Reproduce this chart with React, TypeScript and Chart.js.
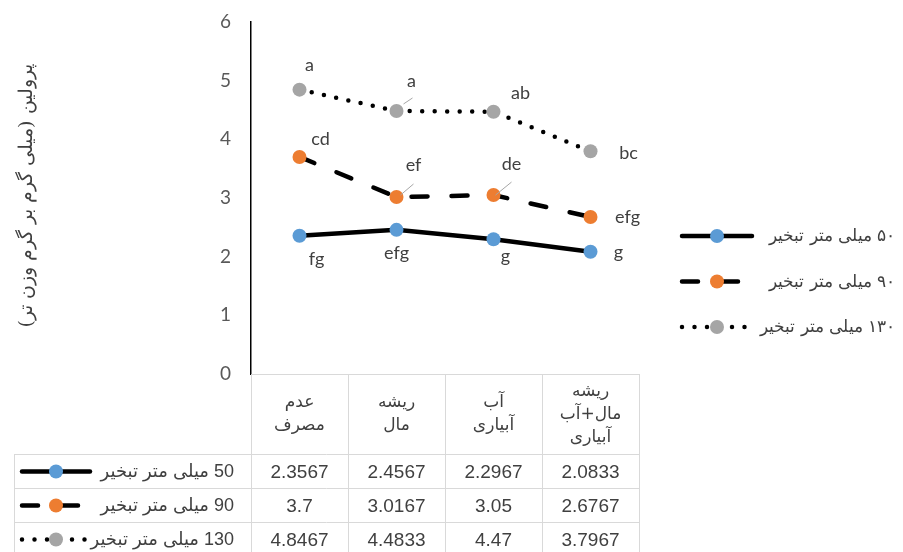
import React, { useEffect, useRef } from "react";
import { Chart, registerables } from "chart.js";

Chart.register(...registerables);

const categories = [
  ["عدم", "مصرف"],
  ["ریشه", "مال"],
  ["آب", "آبیاری"],
  ["ریشه", "مال+آب", "آبیاری"],
];
const tableNames = ["50 میلی متر تبخیر", "90 میلی متر تبخیر", "130 میلی متر تبخیر"];
const legendNames = ["۵۰ میلی متر تبخیر", "۹۰ میلی متر تبخیر", "۱۳۰ میلی متر تبخیر"];
const evap50 = [2.3567, 2.4567, 2.2967, 2.0833];
const evap90 = [3.7, 3.0167, 3.05, 2.6767];
const evap130 = [4.8467, 4.4833, 4.47, 3.7967];
const tableText50 = ["2.3567", "2.4567", "2.2967", "2.0833"];
const tableText90 = ["3.7", "3.0167", "3.05", "2.6767"];
const tableText130 = ["4.8467", "4.4833", "4.47", "3.7967"];
const letters50 = ["fg", "efg", "g", "g"];
const letters90 = ["cd", "ef", "de", "efg"];
const letters130 = ["a", "a", "ab", "bc"];
const yMin = 0;
const yMax = 6;
const yStep = 1;
const yTitle = "پرولین (میلی گرم بر گرم وزن تر)";

// styles
const markerColors = ["#5B9BD5", "#ED7D31", "#A5A5A5"];
const dashes = [[], [16, 24], [0, 12.5]];
const lineW = 4.5;
const ptR = 7;
const textColor = "#404040";
const gridColor = "#D9D9D9";

// label offsets relative to point (dx, dy) per series
const labelOffsets = [
  [[17, 23], [0, 23], [12, 17], [28, 0]],
  [[21, -18], [17, -32], [18, -31], [37, 0]],
  [[10, -24], [15, -30], [27, -19], [38, 2]],
];
// leader lines: [series, index, x1, y1, x2, y2] relative to point
const leaders = [
  [2, 1, 7, -7, 16, -13],
  [1, 1, 4, -2, 17, -13],
  [1, 2, 2, 0, 18, -13],
];

const seriesValues = [evap50, evap90, evap130];
const seriesLetters = [letters50, letters90, letters130];
const seriesTable = [tableText50, tableText90, tableText130];

function drawSample(ctx: CanvasRenderingContext2D, s: number, x1: number, x2: number, y: number) {
  ctx.save();
  ctx.strokeStyle = "#000";
  ctx.lineWidth = lineW;
  ctx.lineCap = "round";
  ctx.setLineDash(dashes[s] as number[]);
  ctx.beginPath();
  ctx.moveTo(x1, y);
  ctx.lineTo(x2, y);
  ctx.stroke();
  ctx.setLineDash([]);
  ctx.fillStyle = markerColors[s];
  ctx.beginPath();
  ctx.arc((x1 + x2) / 2, y, ptR, 0, Math.PI * 2);
  ctx.fill();
  ctx.restore();
}

const overlayPlugin = {
  id: "overlay",
  afterDatasetsDraw(chart: any) {
    const ctx: CanvasRenderingContext2D = chart.ctx;
    const area = chart.chartArea;
    ctx.save();
    // letter labels
    ctx.font = "18px Lato";
    ctx.fillStyle = textColor;
    ctx.textAlign = "center";
    ctx.textBaseline = "middle";
    for (let s = 0; s < 3; s++) {
      const meta = chart.getDatasetMeta(s);
      meta.data.forEach((pt: any, i: number) => {
        const [dx, dy] = labelOffsets[s][i];
        ctx.fillText(seriesLetters[s][i], pt.x + dx, pt.y + dy);
      });
    }
    ctx.strokeStyle = "#A6A6A6";
    ctx.lineWidth = 1;
    leaders.forEach(([s, i, x1, y1, x2, y2]) => {
      const pt = chart.getDatasetMeta(s).data[i];
      ctx.beginPath();
      ctx.moveTo(pt.x + x1, pt.y + y1);
      ctx.lineTo(pt.x + x2, pt.y + y2);
      ctx.stroke();
    });

    // data table
    const n = categories.length;
    const colW = (area.right - area.left) / n;
    const tableLeft = 14;
    const headTop = area.bottom;
    const headBottom = 454.5;
    const rowH = 34;
    ctx.strokeStyle = gridColor;
    ctx.lineWidth = 1;
    ctx.beginPath();
    ctx.moveTo(area.left, headTop + 0.5);
    ctx.lineTo(area.right, headTop + 0.5);
    for (let r = 0; r <= 3; r++) {
      const y = headBottom + r * rowH;
      ctx.moveTo(tableLeft, y);
      ctx.lineTo(area.right, y);
    }
    for (let c = 0; c <= n; c++) {
      const x = Math.round(area.left + c * colW) + 0.5;
      ctx.moveTo(x, headTop);
      ctx.lineTo(x, 560);
    }
    ctx.moveTo(tableLeft + 0.5, headBottom);
    ctx.lineTo(tableLeft + 0.5, 560);
    ctx.stroke();

    // header text
    ctx.fillStyle = textColor;
    ctx.direction = "rtl";
    ctx.font = "17px 'DejaVu Sans', sans-serif";
    ctx.textAlign = "center";
    const lineH = 23;
    categories.forEach((lines, c) => {
      const cx = area.left + (c + 0.5) * colW;
      const cy = (headTop + headBottom) / 2;
      const start = cy - ((lines.length - 1) * lineH) / 2;
      lines.forEach((t, k) => ctx.fillText(t, cx, start + k * lineH));
    });

    // rows
    for (let s = 0; s < 3; s++) {
      const cy = headBottom + s * rowH + rowH / 2;
      ctx.direction = "ltr";
      ctx.font = "19px 'Liberation Sans', Arial, sans-serif";
      ctx.textAlign = "center";
      ctx.fillStyle = textColor;
      seriesTable[s].forEach((t, c) => {
        ctx.fillText(t, area.left + (c + 0.5) * colW, cy + 1);
      });
      drawSample(ctx, s, 22, 90, cy);
      ctx.direction = "rtl";
      ctx.textAlign = "right";
      ctx.fillStyle = textColor;
      ctx.font = "18px 'Liberation Sans', 'DejaVu Sans', sans-serif";
      ctx.fillText(tableNames[s], 234, cy + 1);
    }

    // right legend
    for (let s = 0; s < 3; s++) {
      const y = 236 + s * 45.5;
      drawSample(ctx, s, 682, 752, y);
      ctx.direction = "rtl";
      ctx.textAlign = "right";
      ctx.fillStyle = textColor;
      ctx.font = "16.5px 'DejaVu Serif', 'Liberation Serif', serif";
      ctx.fillText(legendNames[s], 895, y + 1);
    }

    // y axis title
    ctx.save();
    ctx.translate(27, 196);
    ctx.rotate(-Math.PI / 2);
    ctx.direction = "rtl";
    ctx.textAlign = "center";
    ctx.fillStyle = textColor;
    ctx.font = "19px 'DejaVu Serif', 'Liberation Serif', serif";
    ctx.fillText(yTitle, 0, 0);
    ctx.restore();

    ctx.restore();
  },
};

export default function App() {
  const ref = useRef<HTMLCanvasElement | null>(null);
  useEffect(() => {
    if (!ref.current) return;
    const chart = new Chart(ref.current, {
      type: "line",
      data: {
        labels: categories,
        datasets: seriesValues.map((vals, s) => ({
          label: tableNames[s],
          data: vals,
          borderColor: "#000",
          borderWidth: lineW,
          borderDash: dashes[s] as number[],
          borderCapStyle: "round" as const,
          tension: 0,
          fill: false,
          pointRadius: ptR,
          pointBorderWidth: 0,
          pointBackgroundColor: markerColors[s],
          pointBorderColor: markerColors[s],
        })),
      },
      options: {
        animation: false,
        responsive: false,
        devicePixelRatio: 1,
        layout: { padding: { left: 0, right: 264, top: 22, bottom: 178 } },
        plugins: { legend: { display: false }, tooltip: { enabled: false } },
        scales: {
          x: { type: "category", offset: true, display: false },
          y: {
            min: yMin,
            max: yMax,
            ticks: {
              stepSize: yStep,
              padding: 20,
              color: "#595959",
              font: { family: "Lato", size: 19 },
            },
            grid: { display: false, drawTicks: false },
            border: { display: true, color: "#000", width: 1.5 },
            afterFit: (scale: any) => {
              scale.width = 251;
              scale.paddingTop = 0;
              scale.paddingBottom = 0;
            },
          },
        },
      },
      plugins: [overlayPlugin],
    });
    return () => chart.destroy();
  }, []);
  return (
    <div style={{ position: "absolute", left: 0, top: 0, width: 903, height: 552, background: "#fff" }}>
      <canvas ref={ref} width={903} height={552} style={{ display: "block" }} />
    </div>
  );
}
